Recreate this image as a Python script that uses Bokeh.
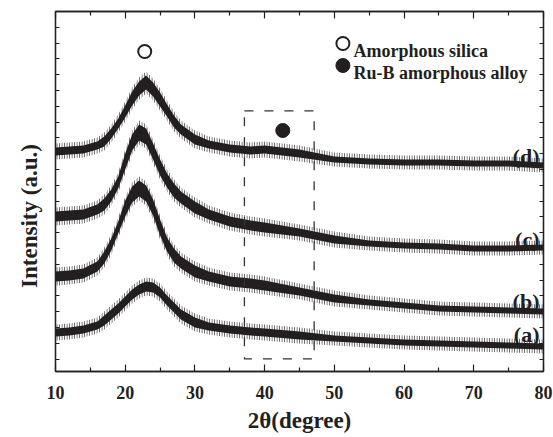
import numpy as np
from bokeh.plotting import figure
from bokeh.models import Range1d, LinearAxis, FixedTicker, Label, Title
from bokeh.embed import file_html
from bokeh.resources import INLINE

# ---- XRD data: diffraction angle 2θ (degree) and intensity (a.u., offset per sample)
two_theta = [10, 12, 14, 16, 17, 18, 19, 20, 21, 22, 23, 24, 25, 26, 27, 28,
             30, 32, 35, 38, 40, 45, 50, 55, 60, 65, 70, 75, 80]

curve_a = [39, 40, 42, 46, 51, 57, 63, 70, 77, 82, 85, 84, 79, 71, 64, 57,
           49, 45, 42, 40, 39, 36, 33, 31, 29, 28, 27, 26, 25]
curve_b = [95, 96, 98, 105, 114, 127, 144, 163, 177, 183, 178, 164, 144, 127, 116, 109,
           100, 95, 90, 88, 86, 80, 73, 69, 66, 63, 62, 61, 60]
curve_c = [155, 156, 157, 162, 167, 176, 189, 210, 229, 239, 235, 220, 204, 191, 181, 174,
           164, 157, 150, 146, 144, 139, 132, 128, 126, 125, 123, 123, 124]
curve_d = [220, 221, 222, 226, 230, 238, 248, 260, 273, 283, 289, 282, 272, 261, 250, 242,
           232, 227, 223, 221, 222, 218, 212, 210, 209, 209, 208, 208, 206]

# counting-noise half spread of each pattern (a.u.)
noise_a = [4, 4, 4, 4, 5, 5, 5, 5, 5, 5, 5, 5, 5, 5, 5, 5, 5, 4, 4, 4, 4, 4, 3, 3, 3, 3, 3, 3, 3]
noise_b = [5, 5, 5, 5, 6, 6, 6, 8, 8, 8, 8, 8, 8, 7, 7, 6, 6, 5, 5, 5, 5, 4, 4, 3, 3, 3, 3, 3, 3]
noise_c = [5, 5, 5, 5, 6, 6, 6, 8, 8, 8, 8, 8, 8, 7, 7, 6, 6, 5, 5, 5, 5, 4, 4, 3, 3, 3, 3, 3, 3]
noise_d = [4, 4, 4, 4, 5, 5, 5, 6, 7, 7, 7, 7, 7, 6, 6, 5, 5, 4, 4, 4, 4, 4, 3, 3, 3, 3, 3, 3, 3]

sample_labels = ["(a)", "(b)", "(c)", "(d)"]
label_heights = [37, 70, 132, 215]

# peak assignments
silica_peak = (22.8, 320)
alloy_peak = (42.6, 241)
alloy_window = (37.1, 47.1, 12.6, 260.6)   # 2θ from, 2θ to, intensity from, intensity to

x_ticks = [10, 20, 30, 40, 50, 60, 70, 80]

INK = "#231f20"
FONT = "Liberation Serif"

p = figure(width=553, height=437, x_range=Range1d(10, 80), y_range=Range1d(0, 360),
           output_backend="svg", toolbar_location=None,
           min_border_left=54, min_border_right=10, min_border_top=11, min_border_bottom=66)
p.xgrid.visible = False
p.ygrid.visible = False
p.outline_line_color = INK
p.outline_line_width = 1.3
p.background_fill_color = "white"

bottom_axis = p.xaxis[0]
left_axis = p.yaxis[0]

x_minor = [t + 5 for t in x_ticks[:-1]]
y_ticks = [360 - 15.8 * k for k in range(1, 23)]


def style_x(ax, labels):
    ax.ticker = FixedTicker(ticks=x_ticks, minor_ticks=x_minor)
    ax.major_tick_in = 7
    ax.major_tick_out = 0
    ax.minor_tick_in = 4
    ax.minor_tick_out = 0
    ax.major_tick_line_color = INK
    ax.minor_tick_line_color = INK
    ax.axis_line_color = INK
    ax.axis_line_width = 1.3
    ax.major_tick_line_width = 1.2
    ax.minor_tick_line_width = 1.2
    if labels:
        ax.major_label_text_font = FONT
        ax.major_label_text_font_style = "bold"
        ax.major_label_text_font_size = "18px"
        ax.major_label_text_color = INK
        ax.major_label_standoff = 14
    else:
        ax.major_label_text_font_size = "0px"
        ax.major_label_standoff = 0


def style_y(ax):
    ax.ticker = FixedTicker(ticks=y_ticks, minor_ticks=[])
    ax.major_tick_in = 4
    ax.major_tick_out = 0
    ax.major_tick_line_color = INK
    ax.major_tick_line_width = 1.0
    ax.axis_line_color = INK
    ax.axis_line_width = 1.3
    ax.major_label_text_font_size = "0px"
    ax.major_label_standoff = 0


style_x(bottom_axis, True)
style_y(left_axis)
top_axis = LinearAxis()
style_x(top_axis, False)
p.add_layout(top_axis, "above")
right_axis = LinearAxis()
style_y(right_axis)
p.add_layout(right_axis, "right")

# axis titles
bottom_axis.axis_label = "2\u03b8(degree)"
bottom_axis.axis_label_text_font = FONT
bottom_axis.axis_label_text_font_style = "bold"
bottom_axis.axis_label_text_font_size = "23px"
bottom_axis.axis_label_text_color = INK
bottom_axis.axis_label_standoff = 6

p.add_layout(Title(text="Intensity (a.u.)", align="left", offset=83.6, standoff=28,
                   text_font=FONT, text_font_style="bold", text_font_size="23px",
                   text_color=INK), "left")

# diffraction patterns: dense noise core plus sparse spike fringe
x = np.array(two_theta, dtype=float)
for ys, ns in [(curve_a, noise_a), (curve_b, noise_b), (curve_c, noise_c), (curve_d, noise_d)]:
    y = np.array(ys, dtype=float)
    n = np.array(ns, dtype=float)
    p.varea(x=x, y1=y - n - 4, y2=y + n + 4, fill_alpha=0,
            hatch_pattern="|", hatch_scale=2.5, hatch_color=INK, hatch_weight=1, hatch_alpha=0.8)
    p.varea(x=x, y1=y - n, y2=y + n, fill_color=INK)

# sample labels
for txt, h in zip(sample_labels, label_heights):
    p.add_layout(Label(x=80, y=h, x_offset=-4, text=txt, text_align="right",
                       text_baseline="alphabetic", text_font=FONT, text_font_style="bold",
                       text_font_size="22px", text_color=INK))

# Ru-B window and peak markers
p.quad(left=[alloy_window[0]], right=[alloy_window[1]], bottom=[alloy_window[2]], top=[alloy_window[3]],
       fill_alpha=0, line_color="#333333", line_width=1.3, line_dash="9 11")
p.scatter([silica_peak[0]], [silica_peak[1]], marker="circle", size=13,
          fill_color="white", line_color=INK, line_width=2)
p.scatter([alloy_peak[0]], [alloy_peak[1]], marker="circle", size=14,
          fill_color=INK, line_color=INK)

# legend keys and texts
p.scatter([10 + (342 - 54) * 70 / 489], [371 - 43], marker="circle", size=13,
          fill_color="white", line_color=INK, line_width=2)
p.scatter([10 + (342 - 54) * 70 / 489], [371 - 65], marker="circle", size=14,
          fill_color=INK, line_color=INK)
for txt, base in [("Amorphous silica", 50), ("Ru-B amorphous alloy", 72)]:
    p.add_layout(Label(x=352 - 54, y=371 - base, x_units="screen", y_units="screen",
                       text=txt, text_align="left", text_baseline="alphabetic",
                       text_font=FONT, text_font_style="bold", text_font_size="18px",
                       text_color=INK))

open("out.html", "w").write(file_html(p, INLINE))
